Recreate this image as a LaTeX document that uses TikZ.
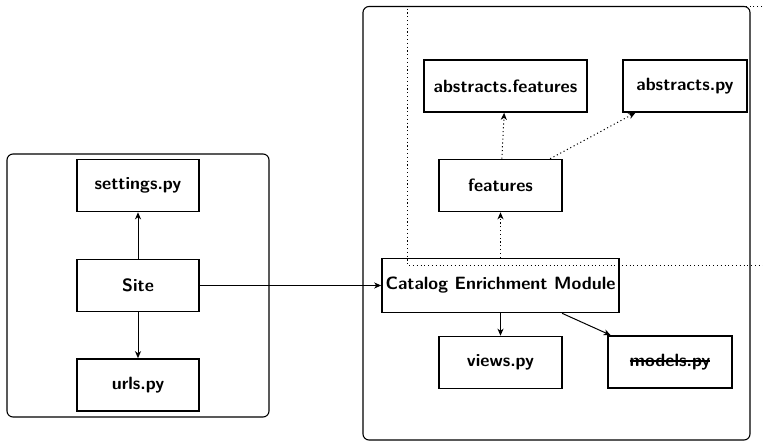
\documentclass[tikz,border=0pt]{standalone}
\usetikzlibrary{arrows.meta}
\newsavebox{\strikebox}
\newcommand\mystrike[1]{\sbox{\strikebox}{#1}\rlap{\raisebox{0.27em}{\rule{\wd\strikebox}{1.6pt}}}\usebox{\strikebox}}
\begin{document}
\begin{tikzpicture}[x=1pt,y=-1pt,
  box/.style={draw,line width=1.6pt,inner sep=0pt,minimum height=52pt,
    font=\fontsize{17.8}{21}\selectfont\sffamily\bfseries},
  group/.style={draw,line width=1.1pt,rounded corners=6pt},
  conn/.style={line width=1.0pt,-{Stealth[length=7pt,width=6pt,inset=2pt]}},
  dotconn/.style={conn,dash pattern=on 1.1pt off 2.7pt},
  region/.style={line width=1.0pt,dash pattern=on 1.1pt off 2.7pt}]
\useasboundingbox (0,0) rectangle (763,441);
% groups
\draw[group] (7,154) rectangle (269,417);
\draw[group] (363,6.5) rectangle (750,440);
% nodes
\node[box,minimum width=122pt] (settings) at (138,185.5) {settings.py};
\node[box,minimum width=122pt] (site) at (138,285.5) {Site};
\node[box,minimum width=122pt] (urls) at (138,385) {urls.py};
\node[box,minimum width=163pt] (absf) at (505.5,86) {abstracts.features};
\node[box,minimum width=124pt] (absp) at (685,86) {abstracts.py};
\node[box,minimum width=123pt] (feat) at (500.5,185.5) {features};
\node[box,minimum width=237pt,minimum height=54pt] (cem) at (500.5,285.5) {Catalog Enrichment Module};
\node[box,minimum width=123pt] (views) at (500.5,362.5) {views.py};
\node[box,minimum width=124pt] (models) at (670,362) {\mystrike{models.py}};
% dotted region
\draw[region] (800,6.5) -- (407,6.5) -- (407,265) -- (800,265);
% connectors
\draw[conn] (site) -- (settings);
\draw[conn] (site) -- (urls);
\draw[conn] (site) -- (cem);
\draw[dotconn] (cem) -- (feat);
\draw[conn] (cem) -- (views);
\draw[conn] (cem) -- (models);
\draw[dotconn] (feat) -- (absf);
\draw[dotconn] (feat) -- (absp);
\end{tikzpicture}
\end{document}
